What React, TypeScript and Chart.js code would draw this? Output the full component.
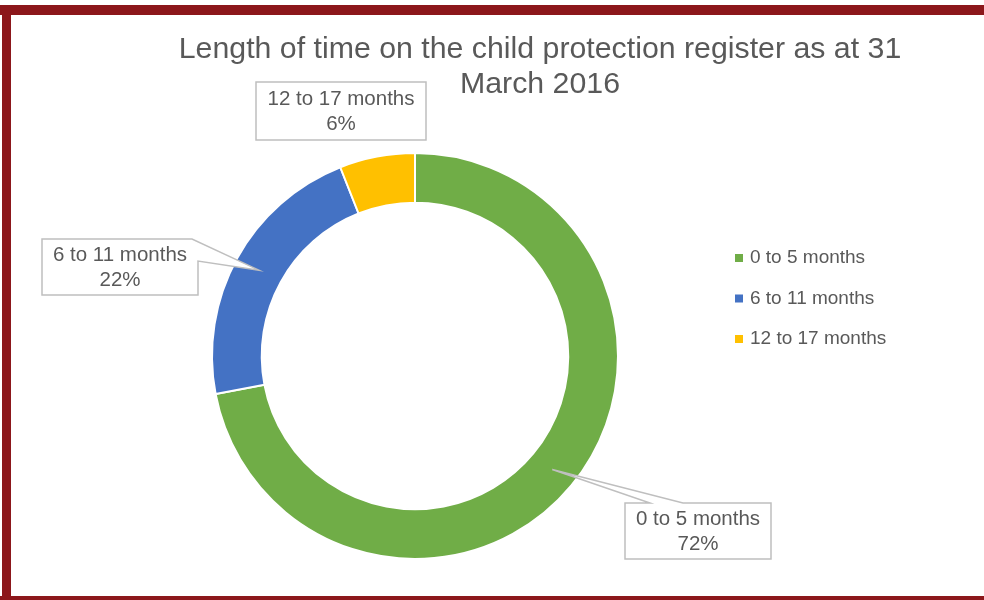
import React, { useEffect, useRef } from "react";
import { Chart, registerables } from "chart.js";

Chart.register(...registerables);

const categories = ["0 to 5 months", "6 to 11 months", "12 to 17 months"];
const percentages = [72, 22, 6];
const colors = ["#70AD47", "#4472C4", "#FFC000"];
const titleLines = ["Length of time on the child protection register as at 31", "March 2016"];

const TEXT = "#595959";
const FONT = '"Liberation Sans", Arial, sans-serif';

// callout box layout (center x, center y, width, height, pointer side)
const boxLayout = [
  { cx: 698, cy: 531, w: 146, h: 56, side: "top" },
  { cx: 120, cy: 267, w: 156, h: 56, side: "right" },
  { cx: 341, cy: 111, w: 170, h: 58, side: "none" },
];

const decorPlugin = {
  id: "decor",
  beforeDraw(chart: any) {
    const ctx = chart.ctx;
    ctx.save();
    ctx.fillStyle = "#ffffff";
    ctx.fillRect(0, 0, chart.width, chart.height);
    ctx.fillStyle = "#8c171b";
    ctx.fillRect(0, 5, chart.width, 10);
    ctx.fillRect(2, 5, 9, chart.height - 5);
    ctx.fillRect(0, 596, chart.width, 4);
    ctx.restore();
  },
  afterDraw(chart: any) {
    const ctx = chart.ctx;
    ctx.save();
    // title
    ctx.fillStyle = TEXT;
    ctx.font = `30.3px ${FONT}`;
    ctx.textAlign = "center";
    ctx.textBaseline = "middle";
    titleLines.forEach((t, i) => ctx.fillText(t, 540, 50 + i * 35));

    // legend
    const ds = chart.data.datasets[0];
    ctx.font = `19px ${FONT}`;
    ctx.textAlign = "left";
    chart.data.labels.forEach((lab: string, i: number) => {
      const y = 258 + i * 40.5;
      ctx.fillStyle = ds.backgroundColor[i];
      ctx.fillRect(735, y - 4, 8, 8);
      ctx.fillStyle = TEXT;
      ctx.fillText(lab, 750, y);
    });

    // callouts
    const meta = chart.getDatasetMeta(0);
    meta.data.forEach((arc: any, i: number) => {
      const p = arc.getProps(["x", "y", "startAngle", "endAngle", "innerRadius", "outerRadius"], true);
      const mid = (p.startAngle + p.endAngle) / 2;
      const r = (p.innerRadius + p.outerRadius) / 2;
      const tx = p.x + Math.cos(mid) * r;
      const ty = p.y + Math.sin(mid) * r;
      const b = boxLayout[i];
      const l = b.cx - b.w / 2, t = b.cy - b.h / 2, rr = b.cx + b.w / 2, bb = b.cy + b.h / 2;
      ctx.lineWidth = 1.5;
      ctx.strokeStyle = "#bfbfbf";
      ctx.fillStyle = "#ffffff";
      ctx.beginPath();
      if (b.side === "top") {
        ctx.moveTo(l, t);
        ctx.lineTo(l + 25, t);
        ctx.lineTo(tx, ty);
        ctx.lineTo(l + 58, t);
        ctx.lineTo(rr, t);
        ctx.lineTo(rr, bb);
        ctx.lineTo(l, bb);
        ctx.closePath();
      } else if (b.side === "right") {
        ctx.moveTo(l, t);
        ctx.lineTo(rr - 6, t);
        ctx.lineTo(tx, ty);
        ctx.lineTo(rr, t + 22);
        ctx.lineTo(rr, bb);
        ctx.lineTo(l, bb);
        ctx.closePath();
      } else {
        ctx.rect(l, t, b.w, b.h);
      }
      ctx.fill();
      ctx.stroke();
      ctx.fillStyle = TEXT;
      ctx.font = `20.5px ${FONT}`;
      ctx.textAlign = "center";
      ctx.textBaseline = "middle";
      ctx.fillText(chart.data.labels[i], b.cx, b.cy - 12);
      ctx.fillText(`${chart.data.datasets[0].data[i]}%`, b.cx, b.cy + 13);
    });
    ctx.restore();
  },
};

export default function App() {
  const ref = useRef<HTMLCanvasElement | null>(null);
  useEffect(() => {
    if (!ref.current) return;
    const chart = new Chart(ref.current, {
      type: "doughnut",
      data: {
        labels: categories,
        datasets: [
          {
            data: percentages,
            backgroundColor: colors,
            borderColor: "#ffffff",
            borderWidth: 2,
          },
        ],
      },
      options: {
        responsive: false,
        animation: false,
        cutout: "75.5%",
        layout: { padding: { top: 152, bottom: 40, left: 95, right: 249 } },
        plugins: {
          legend: { display: false },
          title: { display: false },
          tooltip: { enabled: false },
        },
      },
      plugins: [decorPlugin],
    });
    return () => chart.destroy();
  }, []);
  return (
    <div style={{ position: "fixed", left: 0, top: 0, width: 984, height: 600 }}>
      <canvas ref={ref} width={984} height={600} style={{ width: 984, height: 600, display: "block" }} />
    </div>
  );
}
